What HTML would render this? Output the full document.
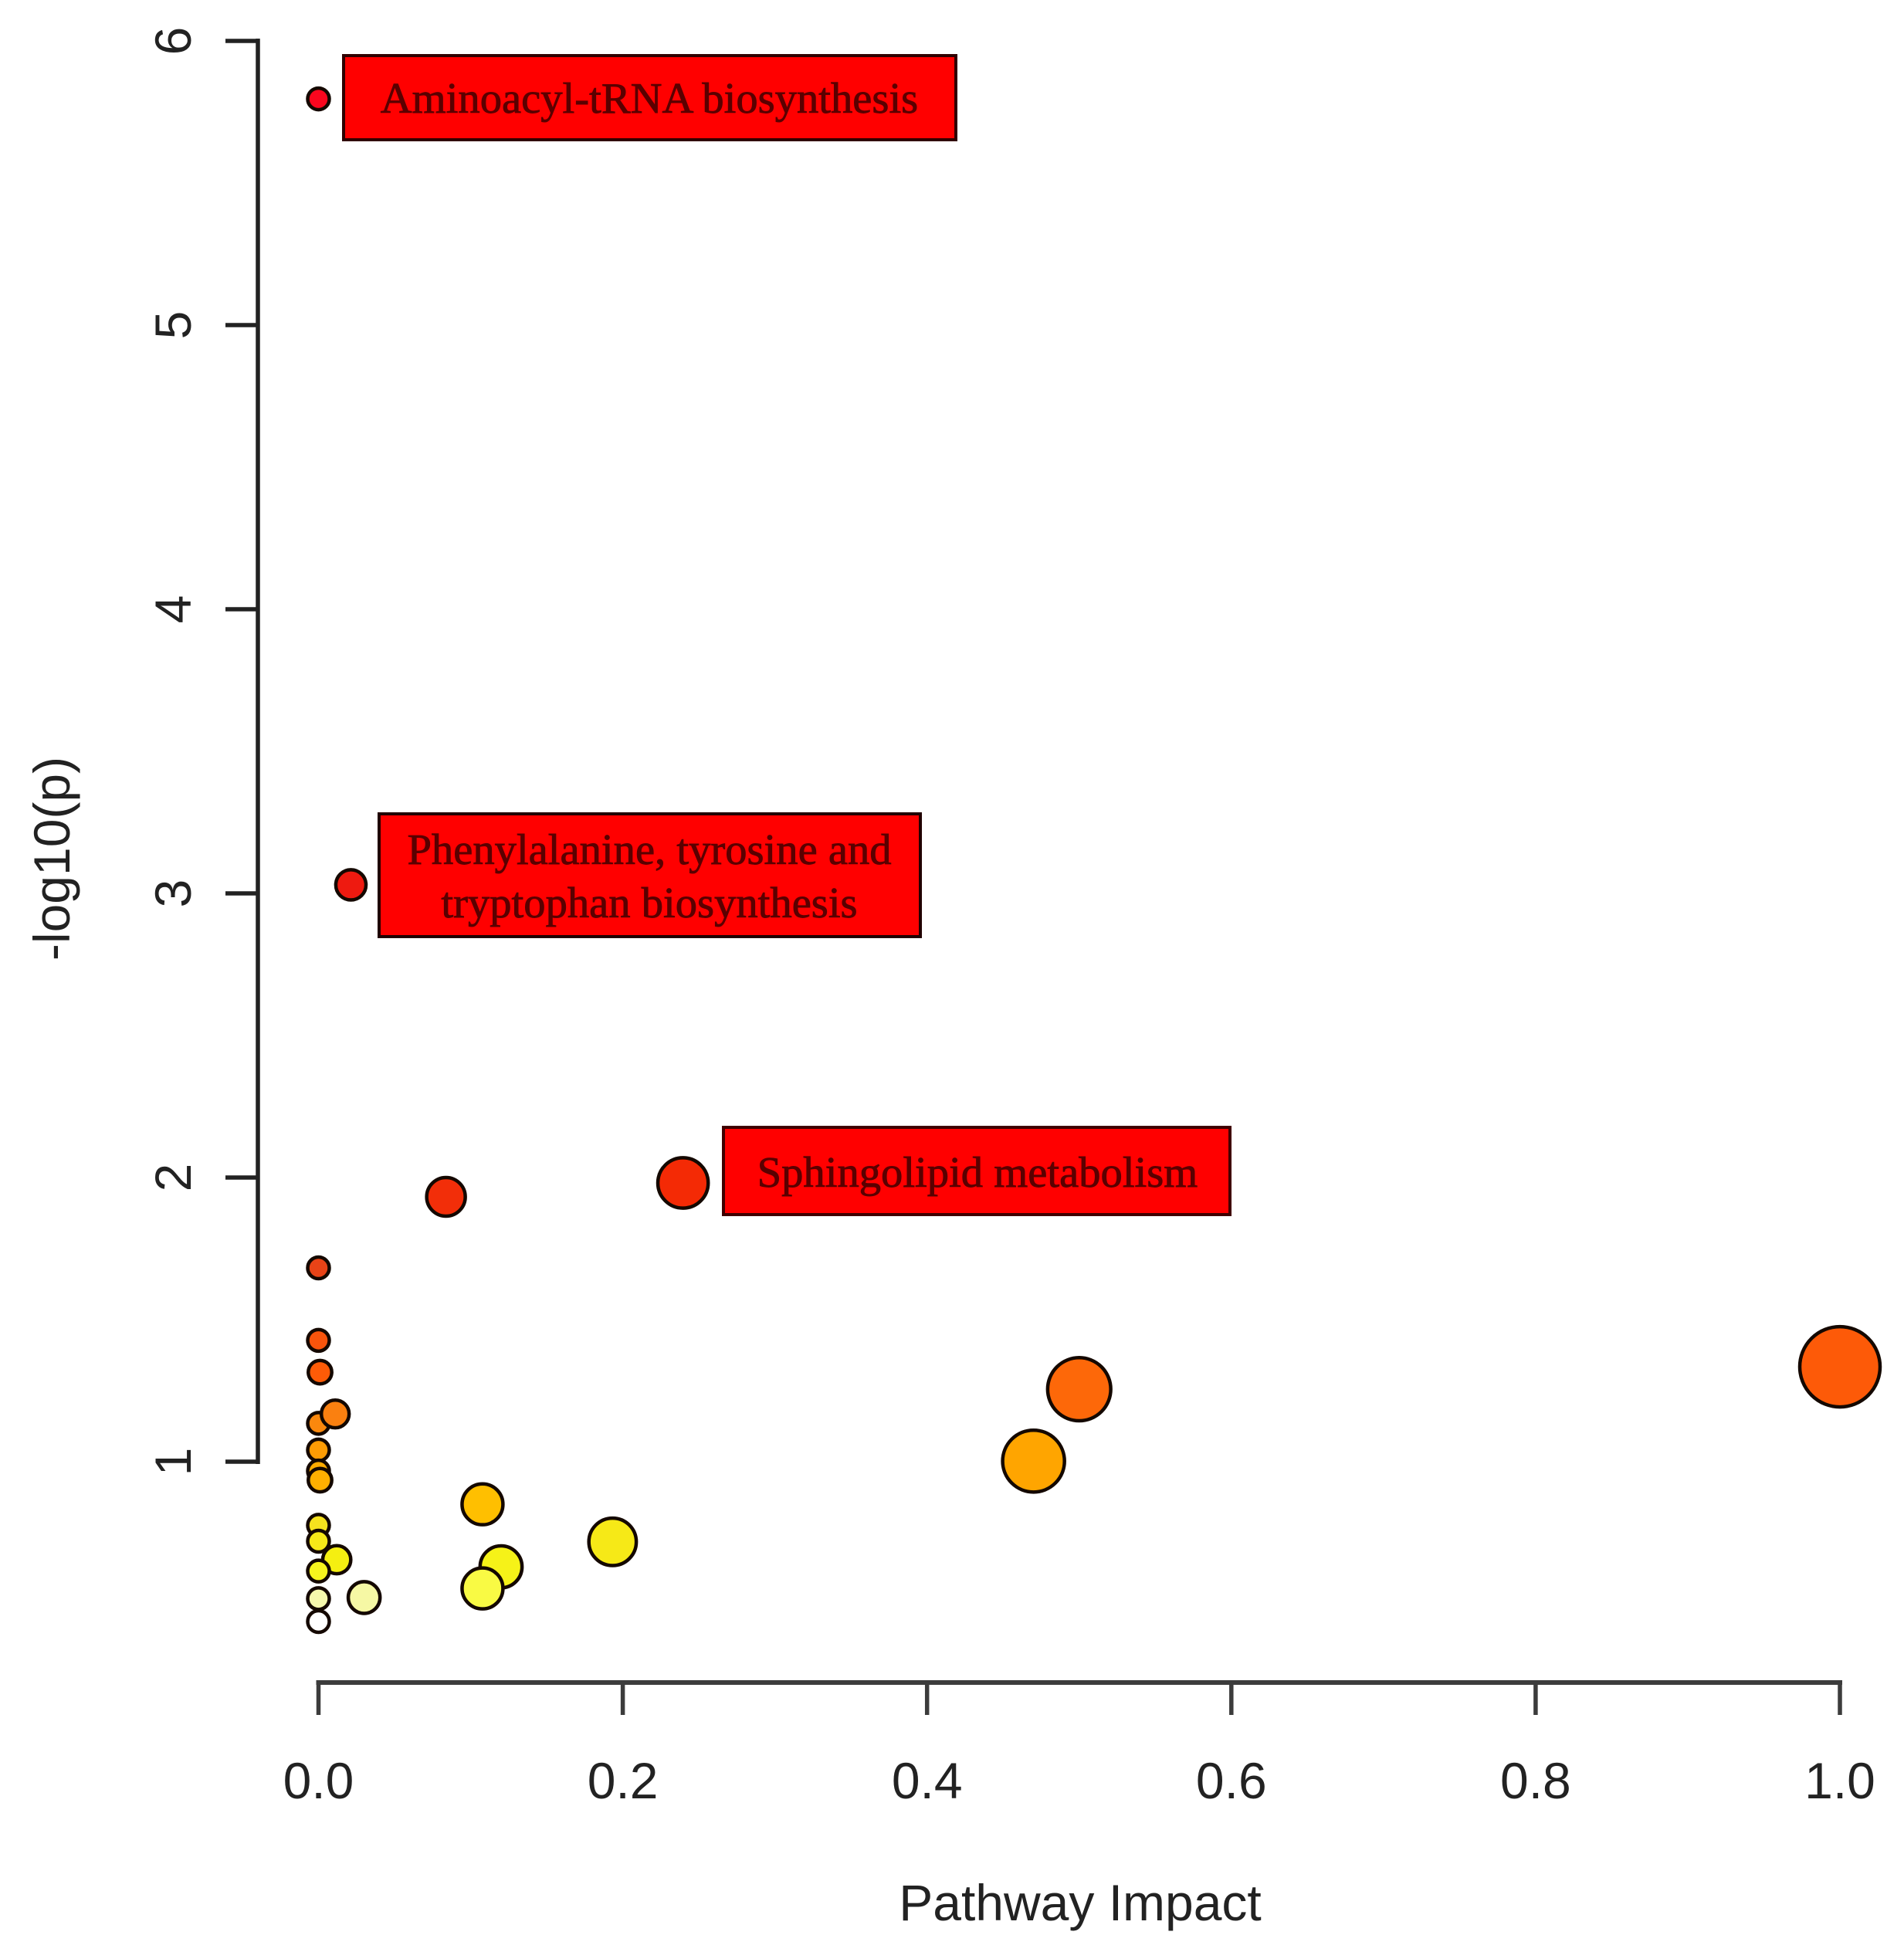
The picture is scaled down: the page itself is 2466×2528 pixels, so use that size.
<!DOCTYPE html>
<html lang="en">
<head>
<meta charset="utf-8">
<title>Pathway Impact Bubble Chart</title>
<style>
  html, body { margin: 0; padding: 0; background: #fff; }
  svg { display: block; }
  .axis-text { font-family: "Liberation Sans", sans-serif; font-size: 66px; fill: #222; }
  .box-text { font-family: "Liberation Serif", serif; font-size: 56.6px; fill: #5a0000; stroke: #5a0000; stroke-width: 0.9px; text-anchor: middle; }
</style>
</head>
<body>
<svg id="chart" width="2466" height="2528" viewBox="0 0 2466 2528" xmlns="http://www.w3.org/2000/svg">
  <rect x="0" y="0" width="2466" height="2528" fill="#ffffff"/>
  <g id="axes"></g>
  <g id="points"></g>

  <g>
    <rect x="445" y="72" width="793" height="109" fill="#ff0000" stroke="#300000" stroke-width="4"/>
    <text class="box-text" x="841" y="146">Aminoacyl-tRNA biosynthesis</text>
  </g>
  <g>
    <rect x="491" y="1054" width="701" height="159" fill="#ff0000" stroke="#200000" stroke-width="4"/>
    <text class="box-text" x="841" y="1119">Phenylalanine, tyrosine and</text>
    <text class="box-text" x="841" y="1188">tryptophan biosynthesis</text>
  </g>
  <g>
    <rect x="937" y="1460" width="656" height="113" fill="#ff0000" stroke="#400000" stroke-width="4"/>
    <text class="box-text" x="1266" y="1537">Sphingolipid metabolism</text>
  </g>

  <text class="axis-text" x="1399" y="2487" text-anchor="middle">Pathway Impact</text>
  <text class="axis-text" text-anchor="middle" transform="translate(90 1112) rotate(-90)">-log10(p)</text>
</svg>

<script>
// Chart data
const pathwayImpact = [0, 0.0213, 0.0838, 0.2396, 0, 0, 0.001, 0, 0.011, 0, 0, 0.001, 0, 0, 0.012, 0, 0, 0.03, 0, 0.1078, 0.12, 0.1078, 0.1933, 0.47, 0.5, 1.0];
const negLogP = [5.796, 3.03, 1.932, 1.981, 1.682, 1.427, 1.315, 1.135, 1.168, 1.041, 0.967, 0.935, 0.776, 0.72, 0.655, 0.615, 0.518, 0.522, 0.4375, 0.85, 0.63, 0.554, 0.718, 1.002, 1.255, 1.334];
const xTickLabels = ["0.0", "0.2", "0.4", "0.6", "0.8", "1.0"];
const yTickLabels = ["1", "2", "3", "4", "5", "6"];

const SVG_NS = "http://www.w3.org/2000/svg";

function xScale(v) { return 412.5 + 1970.5 * v; }
function yScale(v) { return 1893 - 368 * (v - 1); }
function radiusScale(impact) { return 14 + 38 * Math.sqrt(impact); }

function heatColor(p) {
  const stops = [
    [0.44, [255, 255, 255]],
    [0.52, [246, 248, 170]],
    [0.56, [250, 250, 50]],
    [0.65, [245, 240, 16]],
    [0.78, [246, 226, 30]],
    [0.85, [255, 191, 0]],
    [1.0, [255, 165, 0]],
    [1.17, [250, 128, 16]],
    [1.3, [255, 92, 6]],
    [1.7, [232, 66, 24]],
    [2.0, [245, 40, 4]],
    [3.0, [238, 26, 16]],
    [5.8, [250, 6, 30]]
  ];
  if (p <= stops[0][0]) return "rgb(255,255,255)";
  for (let i = 1; i < stops.length; i++) {
    if (p <= stops[i][0]) {
      const a = stops[i - 1];
      const b = stops[i];
      const t = (p - a[0]) / (b[0] - a[0]);
      const c = a[1].map(function (ch, k) { return Math.round(ch + (b[1][k] - ch) * t); });
      return "rgb(" + c.join(",") + ")";
    }
  }
  return "rgb(250,6,30)";
}

function make(tag, attrs, parent) {
  const el = document.createElementNS(SVG_NS, tag);
  Object.keys(attrs).forEach(function (k) { el.setAttribute(k, attrs[k]); });
  parent.appendChild(el);
  return el;
}

const axes = document.getElementById("axes");
const pointsLayer = document.getElementById("points");

// X axis
const xFirst = xScale(parseFloat(xTickLabels[0]));
const xLast = xScale(parseFloat(xTickLabels[xTickLabels.length - 1]));
const xLine = make("line", { x1: xFirst - 3, x2: xLast + 3, y1: 2179, y2: 2179, stroke: "#3c3c3c", "stroke-width": 6 }, axes);



xTickLabels.forEach(function (label) {
  const px = xScale(parseFloat(label));
  const tick = make("line", { x1: px, x2: px, y1: 2179, y2: 2221, stroke: "#3c3c3c", "stroke-width": 5.5 }, axes);
  
  
  const text = make("text", { x: px, y: 2329, "text-anchor": "middle", "class": "axis-text" }, axes);
  
  
  text.textContent = label;
});

// Y axis
const yBottom = yScale(parseFloat(yTickLabels[0]));
const yTop = yScale(parseFloat(yTickLabels[yTickLabels.length - 1]));
const yLine = make("line", { x1: 334, x2: 334, y1: yTop - 3, y2: yBottom + 3, stroke: "#222", "stroke-width": 5.5 }, axes);



yTickLabels.forEach(function (label) {
  const py = yScale(parseFloat(label));
  const tick = make("line", { x1: 292, x2: 334, y1: py, y2: py, stroke: "#222", "stroke-width": 5.5 }, axes);
  
  
  const text = make("text", { "text-anchor": "middle", "class": "axis-text", transform: "translate(247 " + py + ") rotate(-90)" }, axes);
  
  
  text.textContent = label;
});

// Points
pathwayImpact.forEach(function (impact, i) {
  const dot = make("circle", {
    cx: xScale(impact),
    cy: yScale(negLogP[i]),
    r: radiusScale(impact),
    fill: heatColor(negLogP[i]),
    stroke: "#140800",
    "stroke-width": 4.5
  }, pointsLayer);
  
  
});
</script>
</body>
</html>
